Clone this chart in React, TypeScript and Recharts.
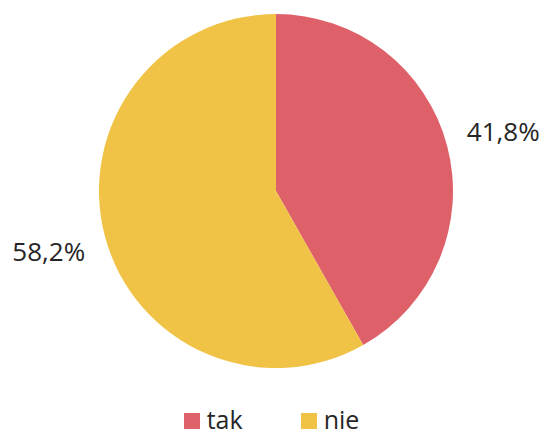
import React from "react";
import { PieChart, Pie, Cell, Legend } from "recharts";

const categories = ["tak", "nie"];
const values = [41.8, 58.2];
const labels = ["41,8%", "58,2%"];
const colors = ["#DE6169", "#F0C346"];

const data = categories.map((name, i) => ({ name, value: values[i], label: labels[i] }));

const RAD = Math.PI / 180;

const renderLabel = (props: any) => {
  const { cx, cy, midAngle, outerRadius, index } = props;
  const r = outerRadius + 58;
  const x = cx + r * Math.cos(-midAngle * RAD);
  const y = cy + r * Math.sin(-midAngle * RAD);
  return (
    <text
      x={x}
      y={y}
      textAnchor="middle"
      dominantBaseline="central"
      fill="#262626"
      fontSize={26}
      fontFamily="'Open Sans', sans-serif"
    >
      {data[index].label}
    </text>
  );
};

const renderLegend = () => {
  return (
    <div style={{ display: "flex", justifyContent: "center", gap: 58, fontFamily: "'Open Sans', sans-serif", fontSize: 25, color: "#262626" }}>
      {data.map((d, i) => (
        <div key={d.name} style={{ display: "flex", alignItems: "center", gap: 7 }}>
          <span style={{ display: "inline-block", width: 16, height: 16, background: colors[i], marginTop: 4 }} />
          <span style={{ lineHeight: "28px" }}>{d.name}</span>
        </div>
      ))}
    </div>
  );
};

export default function App() {
  return (
    <div style={{ position: "absolute", left: 0, top: 0, width: 543, height: 437, background: "#fff", overflow: "hidden" }}>
      <PieChart width={543} height={437} margin={{ top: 0, right: 0, bottom: 0, left: 0 }}>
        <Pie
          data={data}
          dataKey="value"
          nameKey="name"
          cx={276}
          cy={191}
          outerRadius={177}
          startAngle={90}
          endAngle={-270}
          stroke="none"
          label={renderLabel}
          labelLine={false}
          isAnimationActive={false}
        >
          {data.map((d, i) => (
            <Cell key={d.name} fill={colors[i]} />
          ))}
        </Pie>
        <Legend content={renderLegend} wrapperStyle={{ top: 405, left: 0, width: 543 }} />
      </PieChart>
    </div>
  );
}
